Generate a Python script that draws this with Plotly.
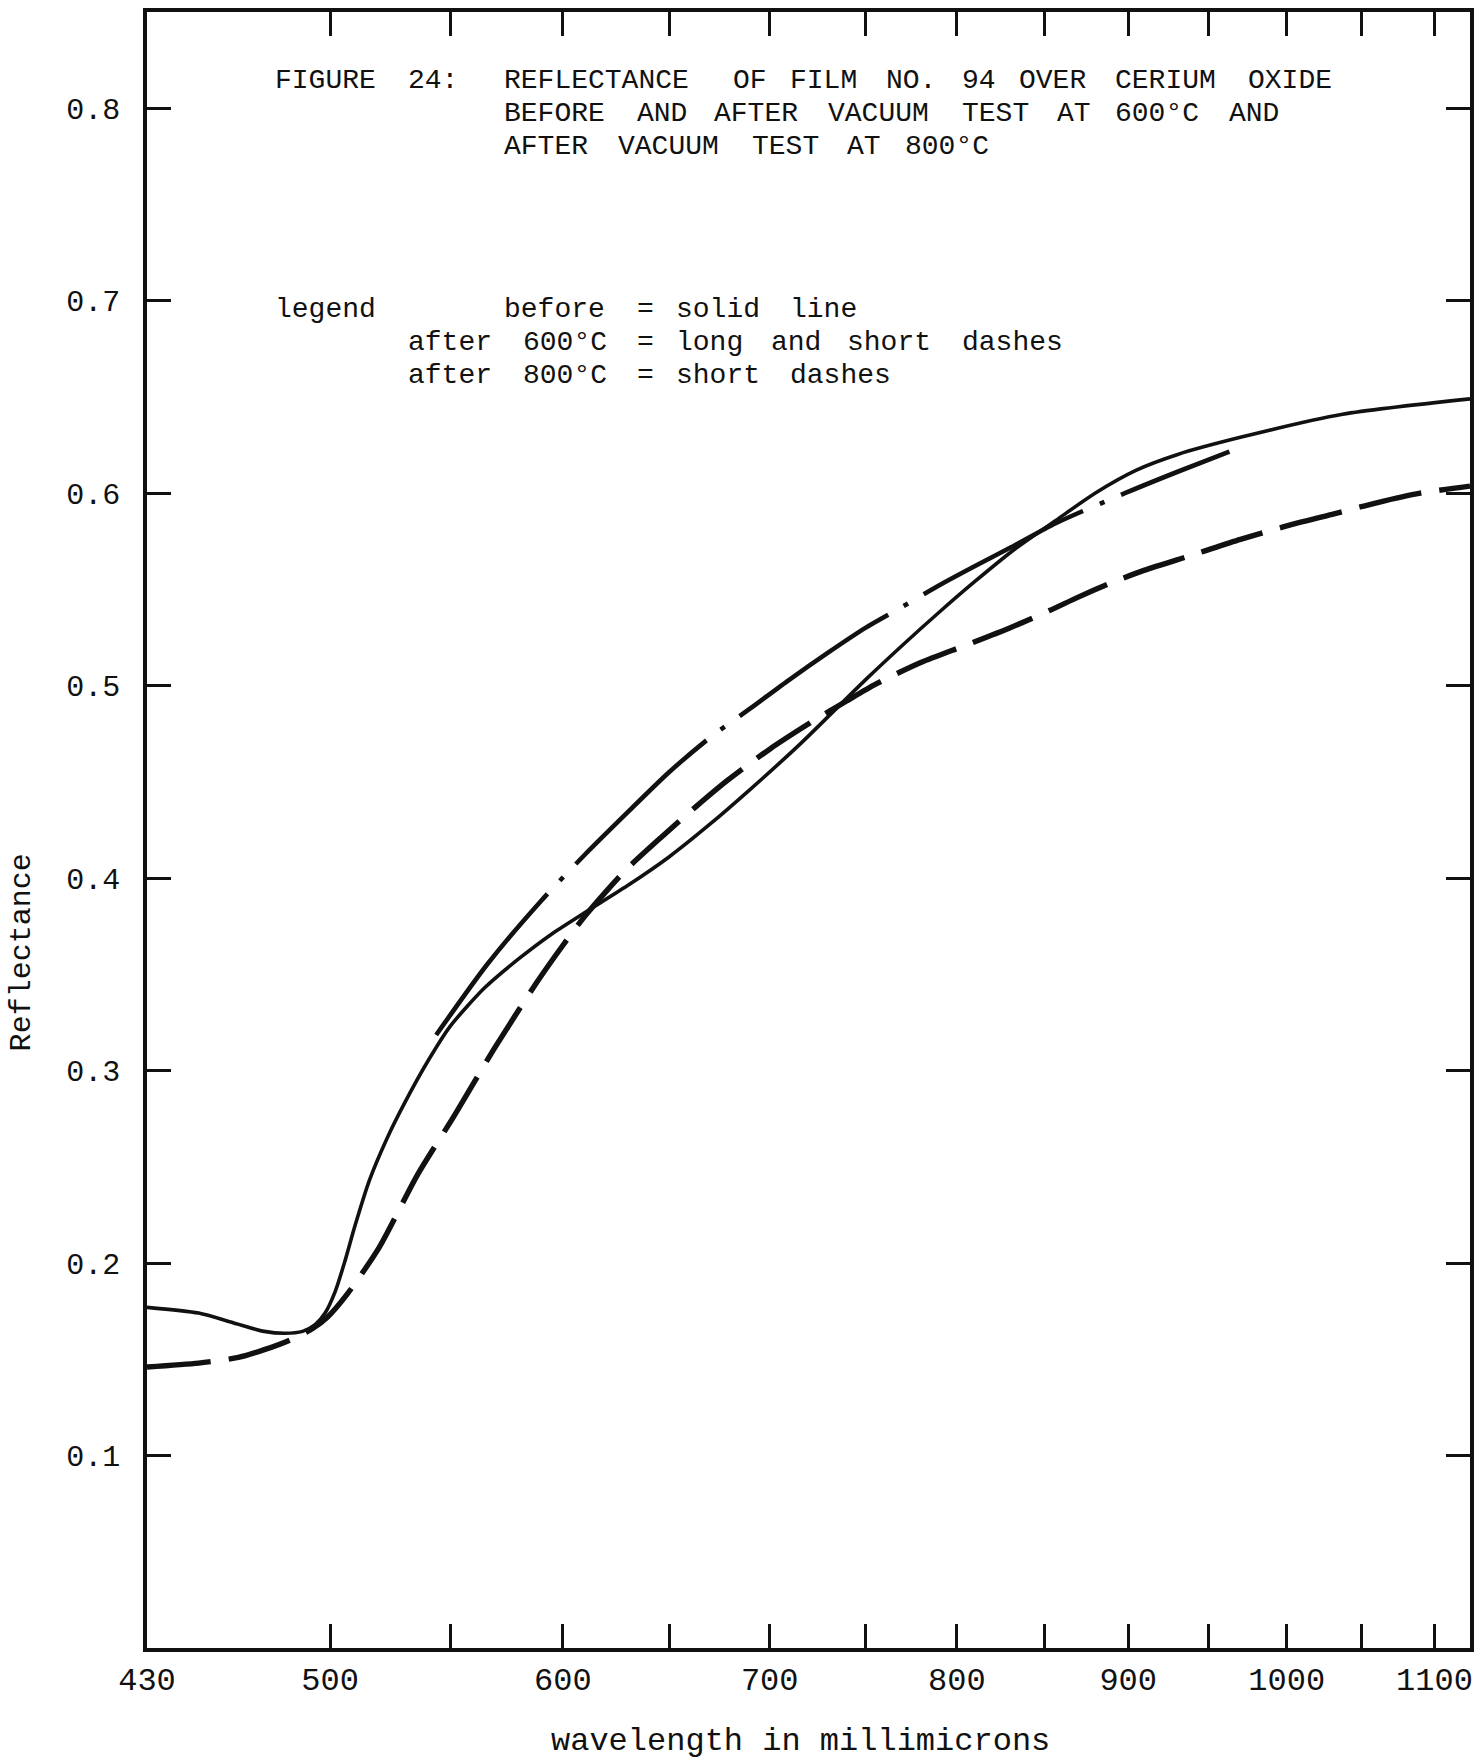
import numpy as np
import plotly.graph_objects as go

# ---------------- data ----------------
# The printed wavelength scale is non-linear; it is very close to linear in nm**0.3
SCALE_EXP = 0.3
X_MIN_NM = 430
X_MAX_NM = 1125

TICK_NM = [430, 500, 550, 600, 650, 700, 750, 800, 850, 900, 950, 1000, 1050, 1100]
TICK_TEXT = ["430", "500", "", "600", "", "700", "", "800", "", "900", "", "1000", "", "1100"]

Y_TICKS = [0.1, 0.2, 0.3, 0.4, 0.5, 0.6, 0.7, 0.8]
Y_TEXT = ["0.1", "0.2", "0.3", "0.4", "0.5", "0.6", "0.7", "0.8"]

# before = solid line
BEFORE_NM = [430, 449, 462, 474, 482, 489, 494, 498, 502, 506, 510, 516, 523, 531, 541,
             550, 565, 580, 595, 610, 630, 650, 670, 690, 716, 750, 770, 790, 810, 833,
             857, 880, 905, 930, 970, 1037, 1125]
BEFORE_R = [0.177, 0.174, 0.169, 0.1645, 0.1635, 0.1645, 0.168, 0.174, 0.185, 0.201, 0.219,
            0.243, 0.264, 0.284, 0.306, 0.323, 0.343, 0.358, 0.371, 0.382, 0.396, 0.411,
            0.428, 0.446, 0.470, 0.503, 0.521, 0.538, 0.554, 0.571, 0.586, 0.600, 0.612,
            0.620, 0.629, 0.641, 0.649]

# after 600 C = long and short dashes
AFTER600_NM = [544, 566, 590, 610, 630, 650, 670, 690, 710, 730, 750, 770, 790, 810, 831,
               857, 898, 930, 963]
AFTER600_R = [0.3185, 0.355, 0.388, 0.412, 0.434, 0.455, 0.473, 0.488, 0.503, 0.517, 0.530,
              0.541, 0.552, 0.562, 0.572, 0.5845, 0.600, 0.611, 0.6216]

# after 800 C = short dashes
AFTER800_NM = [430, 449, 464, 474, 484, 493, 499, 507, 520, 536, 552, 569, 588, 600, 610,
               620, 630, 646, 663, 679, 700, 723, 740, 756, 780, 805, 830, 853, 870, 890,
               910, 940, 970, 1000, 1030, 1060, 1090, 1125]
AFTER800_R = [0.146, 0.148, 0.151, 0.155, 0.160, 0.166, 0.172, 0.184, 0.208, 0.2457, 0.277,
              0.311, 0.3455, 0.365, 0.380, 0.393, 0.405, 0.421, 0.437, 0.451, 0.467, 0.482,
              0.492, 0.501, 0.512, 0.521, 0.530, 0.539, 0.546, 0.5535, 0.560, 0.568, 0.576,
              0.583, 0.589, 0.595, 0.600, 0.6037]

FIG_LABEL = "FIGURE 24:"
TITLE_LINES = ["REFLECTANCE OF FILM NO. 94 OVER CERIUM OXIDE",
               "BEFORE AND AFTER VACUUM TEST AT 600°C AND",
               "AFTER VACUUM TEST AT 800°C"]
LEGEND_WORD = "legend"
LEGEND_LINES = ["before = solid line",
                "after 600°C = long and short dashes",
                "after 800°C = short dashes"]


def scale(nm):
    return np.power(np.asarray(nm, dtype=float), SCALE_EXP)


# ---------------- figure ----------------
W, H = 1482, 1760
ML, MR, MT, MB = 147, 8, 12, 112
PW, PH = W - ML - MR, H - MT - MB
INK = "#111111"
MONO = "Liberation Mono, DejaVu Sans Mono, monospace"


def px(xp):
    return (xp - ML) / PW


def py(yp):
    return (H - MB - yp) / PH


fig = go.Figure()
fig.add_trace(go.Scatter(x=scale(BEFORE_NM), y=BEFORE_R, mode="lines", name="before",
                         line=dict(color=INK, width=3.6, shape="spline", smoothing=0.7)))
fig.add_trace(go.Scatter(x=scale(AFTER600_NM), y=AFTER600_R, mode="lines", name="after 600°C",
                         line=dict(color=INK, width=4.6, shape="spline", smoothing=0.7,
                                   dash="180px,18px,5px,18px")))
fig.add_trace(go.Scatter(x=scale(AFTER800_NM), y=AFTER800_R, mode="lines", name="after 800°C",
                         line=dict(color=INK, width=5.4, shape="spline", smoothing=0.7,
                                   dash="64px,18px")))

annotations = []
COL0 = 273        # left edge of the typewritten block (px)
PITCH = 19.15     # typewriter character pitch (px)
TSIZE = 28


def typed(col, ypix, line):
    """place each typed word at its typewriter column"""
    pos = 0
    for word in line.split(" "):
        if word:
            annotations.append(dict(x=px(COL0 + (col + pos) * PITCH), y=py(ypix),
                                    xref="paper", yref="paper", text=word, showarrow=False,
                                    xanchor="left", yanchor="middle",
                                    font=dict(family=MONO, size=TSIZE, color=INK)))
        pos += len(word) + 1


typed(0, 80, FIG_LABEL)
for i, line in enumerate(TITLE_LINES):
    typed(12, 80 + i * 33.5, line)
typed(0, 309, LEGEND_WORD)
typed(12, 309, LEGEND_LINES[0])
typed(7, 342.5, LEGEND_LINES[1])
typed(7, 376, LEGEND_LINES[2])

annotations.append(dict(x=px(802), y=py(1742), xref="paper", yref="paper",
                        text="wavelength in millimicrons", showarrow=False,
                        xanchor="center", yanchor="middle",
                        font=dict(family=MONO, size=32, color=INK)))
annotations.append(dict(x=px(22), y=py(952), xref="paper", yref="paper",
                        text="Reflectance", showarrow=False, textangle=-90,
                        xanchor="center", yanchor="middle",
                        font=dict(family=MONO, size=30, color=INK)))

axis_common = dict(showline=True, linewidth=3.5, linecolor=INK, mirror="ticks",
                   ticks="inside", ticklen=24, tickwidth=2.6, tickcolor=INK,
                   showgrid=False, zeroline=False)

fig.update_layout(
    width=W, height=H,
    margin=dict(l=ML, r=MR, t=MT, b=MB),
    paper_bgcolor="white", plot_bgcolor="white",
    showlegend=False,
    xaxis=dict(range=[float(scale(X_MIN_NM)), float(scale(X_MAX_NM))],
               tickmode="array", tickvals=list(scale(TICK_NM)), ticktext=TICK_TEXT,
               tickfont=dict(family=MONO, size=32, color=INK), ticklabelstandoff=0,
               **axis_common),
    yaxis=dict(range=[0, 0.85], tickmode="array", tickvals=Y_TICKS, ticktext=Y_TEXT,
               tickfont=dict(family=MONO, size=30, color=INK), ticklabelstandoff=17,
               **axis_common),
    annotations=annotations,
)

fig.write_html("out.html")
